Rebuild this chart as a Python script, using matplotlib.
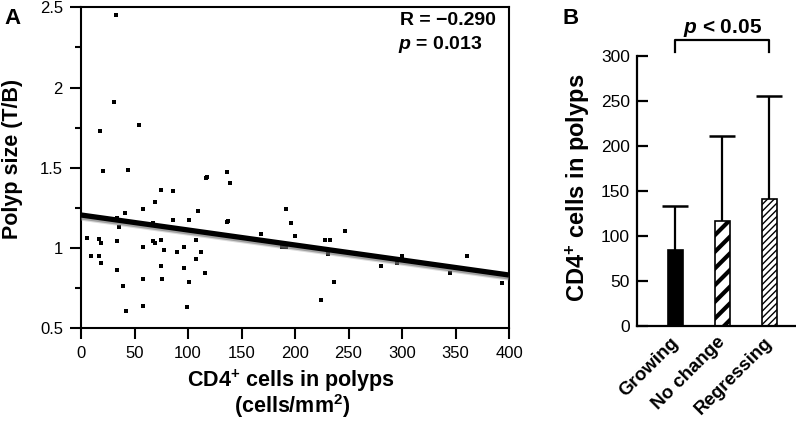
import numpy as np
import matplotlib
matplotlib.use("Agg")
import matplotlib.pyplot as plt
import matplotlib.patheffects as pe
from matplotlib.ticker import MultipleLocator, FixedLocator

plt.rcParams['font.family'] = ['Liberation Sans', 'DejaVu Sans']
plt.rcParams['mathtext.fontset'] = 'custom'
plt.rcParams['mathtext.rm'] = 'Liberation Sans'
plt.rcParams['mathtext.bf'] = 'Liberation Sans:bold'
plt.rcParams['mathtext.it'] = 'Liberation Sans:italic'
plt.rcParams['mathtext.bfit'] = 'Liberation Sans:bold:italic'

# ---------------- Panel A data ----------------
cd4_x = [32.5, 30.9, 17.5, 54.4,
         20.6, 44.1, 116.9, 117.8, 136.2, 139.4, 74.4, 86.0, 69.4, 57.8, 41.0, 109.7,
         136.2, 137.2, 86.0, 101.3, 34.1, 35.6, 67.2, 5.6, 17.2, 19.0, 34.1, 67.2, 69.4,
         74.4, 107.8, 57.8, 77.5, 89.3, 95.9, 112.5, 9.1, 17.2, 19.0, 107.8, 34.1, 74.4,
         95.9, 116.0, 57.8, 75.9, 39.1, 101.3, 57.8, 42.5, 99.4,
         191.3, 196.2, 199.7, 167.8, 188.0, 191.5, 228.0, 232.5, 246.5, 231.2, 236.5,
         224.7, 280.0, 295.0, 299.7, 361.1, 344.6, 393.0]
polyp_y = [2.454, 1.910, 1.731, 1.765,
           1.482, 1.486, 1.438, 1.440, 1.474, 1.407, 1.364, 1.354, 1.287, 1.241, 1.220, 1.231,
           1.160, 1.166, 1.175, 1.175, 1.189, 1.131, 1.158, 1.065, 1.055, 1.031, 1.044, 1.046, 1.031,
           1.052, 1.052, 1.008, 0.988, 0.975, 1.008, 0.975, 0.952, 0.952, 0.909, 0.932, 0.865, 0.886,
           0.876, 0.843, 0.809, 0.809, 0.764, 0.787, 0.641, 0.610, 0.633,
           1.241, 1.154, 1.077, 1.088, 1.008, 1.008, 1.052, 1.052, 1.108, 0.963, 0.787,
           0.676, 0.886, 0.907, 0.952, 0.952, 0.843, 0.784]
fit_intercept = 1.206
fit_slope = -0.000935
r_text = "R = \u22120.290"
p_text = r"$\mathbfit{p}$ = 0.013"

# ---------------- Panel B data ----------------
groups = ["Growing", "No change", "Regressing"]
means = [84, 117, 141]
sds = [49, 94, 114]
hatches = [None, "//", "/////"]
hatch_lws = [1.0, 3.0, 1.0]
sig_text = r"$\mathbfit{p}$ < 0.05"

W, H = 796, 422
fig = plt.figure(figsize=(W / 100, H / 100), dpi=100)

# ---------- Panel A ----------
axA = fig.add_axes([81 / W, 1 - 328.3 / H, (509 - 81) / W, (328.3 - 7.3) / H])
axA.scatter(cd4_x, polyp_y, marker='s', s=6, color='black', linewidths=0, zorder=3)
xs = np.array([0.0, 400.0])
ys = fit_intercept + fit_slope * xs
axA.plot(xs, ys, color='black', lw=3.8, solid_capstyle='butt', zorder=4,
         path_effects=[pe.SimpleLineShadow(offset=(0, -2.2), shadow_color='0.6', alpha=0.35),
                       pe.SimpleLineShadow(offset=(0, -1.4), shadow_color='0.4', alpha=0.5),
                       pe.Normal()])
axA.set_xlim(0, 400)
axA.set_ylim(0.5, 2.5)
axA.xaxis.set_major_locator(MultipleLocator(50))
axA.yaxis.set_major_locator(FixedLocator([0.5, 1, 1.5, 2, 2.5]))
axA.set_yticklabels(["0.5", "1", "1.5", "2", "2.5"])
axA.yaxis.set_minor_locator(MultipleLocator(0.25))
axA.tick_params(axis='both', which='major', direction='out', length=8, width=1.5,
                labelsize=12, pad=5)
axA.tick_params(axis='y', which='minor', direction='out', length=4, width=1.5)
for s in axA.spines.values():
    s.set_linewidth(1.5)
axA.text(0.745, 0.96, r_text, transform=axA.transAxes, fontsize=14, fontweight='bold',
         ha='left', va='center')
axA.text(0.740, 0.885, p_text, transform=axA.transAxes, fontsize=14, fontweight='bold',
         ha='left', va='center')

fig.text(13 / W, 1 - 159 / H, "Polyp size (T/B)", rotation=90, ha='center', va='center',
         fontsize=15.5, fontweight='bold')
fig.text(291 / W, 1 - 381 / H, r"CD4$^{\mathbf{+}}$ cells in polyps", ha='center', va='center',
         fontsize=15.5, fontweight='bold')
fig.text(292 / W, 1 - 406 / H, r"(cells/mm$^{\mathbf{2}}$)", ha='center', va='center',
         fontsize=15.5, fontweight='bold')
fig.text(4 / W, 1 - 8 / H, "A", ha='left', va='top', fontsize=16, fontweight='bold')

# ---------- Panel B ----------
axB = fig.add_axes([636.7 / W, 1 - 326 / H, (795 - 636.7) / W, (326 - 55.7) / H])
xpos = np.arange(len(groups))
for i in range(len(groups)):
    with plt.rc_context({'hatch.linewidth': hatch_lws[i]}):
        b = axB.bar(xpos[i], means[i], width=0.31,
                    color='black' if hatches[i] is None else 'white',
                    edgecolor='black', linewidth=1.2, hatch=hatches[i], zorder=2)
        for p in b:
            try:
                p.set_hatch_linewidth(hatch_lws[i])
            except Exception:
                pass
eb = axB.errorbar(xpos, means, yerr=[np.zeros(len(means)), sds], fmt='none', ecolor='black',
                  elinewidth=1.6, capsize=9.5, capthick=1.8, zorder=1)
caplines = eb[1]
if len(caplines) == 2:
    caplines[0].set_visible(False)
axB.set_xlim(-0.827, 2.548)
axB.set_ylim(0, 300)
axB.yaxis.set_major_locator(MultipleLocator(50))
axB.spines['top'].set_visible(False)
axB.spines['right'].set_visible(False)
for s in ['left', 'bottom']:
    axB.spines[s].set_linewidth(1.6)
axB.tick_params(axis='y', direction='in', length=8, width=1.6, labelsize=12.5, pad=5)
axB.set_xticks(xpos)
axB.set_xticklabels(groups, rotation=45, ha='right', va='center', rotation_mode='anchor',
                    fontsize=13.5, fontweight='bold')
axB.tick_params(axis='x', length=0, pad=10)

# significance bracket
y_top, y_low = 317.5, 304.5
axB.plot([xpos[0], xpos[0], xpos[2], xpos[2]], [y_low, y_top, y_top, y_low],
         color='black', lw=1.6, clip_on=False)
axB.text((xpos[0] + xpos[2]) / 2, 331, sig_text, ha='center', va='center',
         fontsize=15, fontweight='bold', clip_on=False)

fig.text(578 / W, 1 - 188 / H, r"CD4$^{\mathbf{+}}$ cells in polyps", rotation=90,
         ha='center', va='center', fontsize=17, fontweight='bold')
fig.text(562 / W, 1 - 8 / H, "B", ha='left', va='top', fontsize=16, fontweight='bold')

fig.savefig("out.png", dpi=100)
